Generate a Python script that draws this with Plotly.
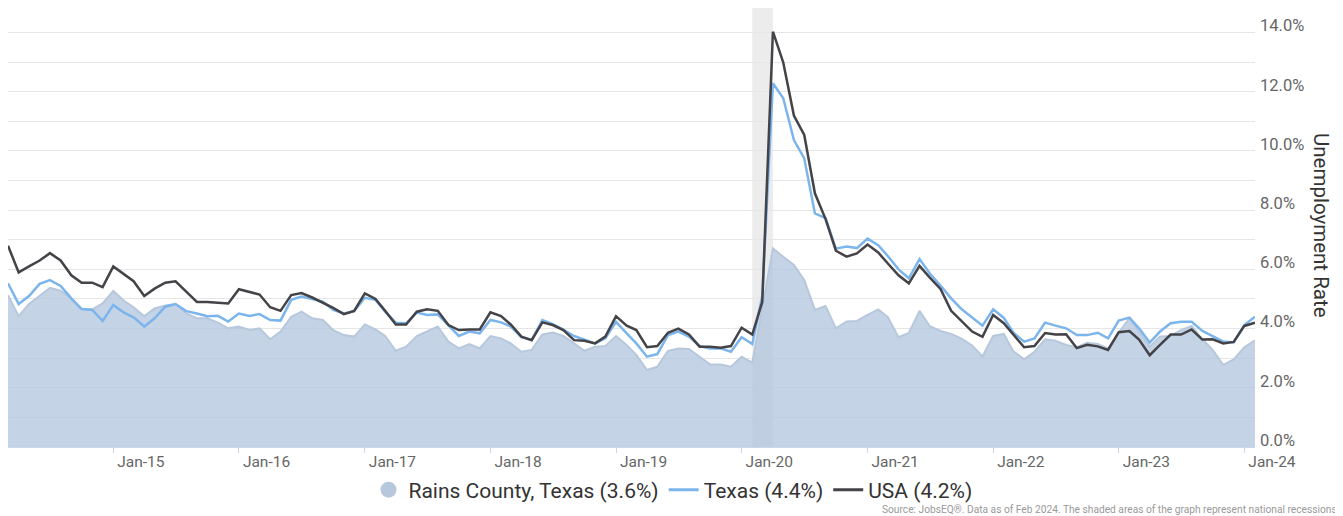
import pandas as pd
import plotly.graph_objects as go

# Monthly observations, Mar 2014 .. Feb 2024
months = pd.date_range("2014-03-01", periods=120, freq="MS")

usa = [6.8, 5.9, 6.1, 6.3, 6.55, 6.3, 5.8, 5.55, 5.55, 5.4,
       6.1, 5.85, 5.6, 5.1, 5.35, 5.55, 5.6, 5.25, 4.9, 4.9, 4.88, 4.85,
       5.33, 5.25, 5.15, 4.72, 4.6, 5.13, 5.2, 5.05, 4.88, 4.7, 4.49, 4.6,
       5.19, 5.0, 4.6, 4.14, 4.14, 4.57, 4.65, 4.6, 4.12, 3.95, 3.97, 3.97,
       4.55, 4.42, 4.14, 3.73, 3.61, 4.21, 4.12, 3.95, 3.61, 3.59, 3.5, 3.73,
       4.42, 4.1, 3.95, 3.37, 3.41, 3.86, 4.0, 3.8, 3.39, 3.39, 3.35, 3.41,
       4.03, 3.8, 4.9, 14.03, 12.99, 11.2, 10.54, 8.57, 7.7, 6.63, 6.43, 6.54,
       6.84, 6.57, 6.2, 5.8, 5.53, 6.12, 5.72, 5.34, 4.6, 4.26, 3.9, 3.72,
       4.46, 4.18, 3.8, 3.37, 3.41, 3.85, 3.8, 3.81, 3.34, 3.45, 3.4, 3.28,
       3.88, 3.92, 3.63, 3.1, 3.45, 3.8, 3.8, 3.97, 3.63, 3.64, 3.5, 3.55,
       4.09, 4.2]

texas = [5.53, 4.83, 5.1, 5.51, 5.64, 5.44, 5.02, 4.66, 4.63, 4.26,
         4.8, 4.54, 4.38, 4.07, 4.35, 4.74, 4.83, 4.59, 4.51, 4.42, 4.43, 4.24,
         4.51, 4.43, 4.49, 4.29, 4.27, 4.97, 5.08, 4.99, 4.91, 4.63, 4.51, 4.59,
         5.04, 4.97, 4.57, 4.2, 4.18, 4.54, 4.46, 4.48, 4.12, 3.75, 3.9, 3.84,
         4.29, 4.21, 4.07, 3.71, 3.62, 4.29, 4.15, 3.97, 3.75, 3.62, 3.5, 3.67,
         4.23, 3.84, 3.5, 3.05, 3.14, 3.78, 3.9, 3.73, 3.41, 3.33, 3.33, 3.22,
         3.71, 3.48, 5.1, 12.29, 11.78, 10.37, 9.75, 7.89, 7.73, 6.7, 6.77, 6.72,
         7.04, 6.82, 6.45, 6.0, 5.7, 6.35, 5.86, 5.45, 5.02, 4.66, 4.37, 4.1,
         4.65, 4.36, 3.86, 3.56, 3.67, 4.2, 4.1, 4.01, 3.78, 3.78, 3.86, 3.67,
         4.27, 4.37, 4.01, 3.53, 3.9, 4.18, 4.23, 4.23, 3.92, 3.73, 3.56, 3.53,
         4.12, 4.4]

rains = [5.13, 4.42, 4.83, 5.1, 5.38, 5.28, 5.02, 4.66, 4.65, 4.85,
         5.27, 4.94, 4.72, 4.42, 4.68, 4.78, 4.83, 4.51, 4.35, 4.35, 4.2, 4.01,
         4.07, 3.95, 4.01, 3.64, 3.9, 4.4, 4.57, 4.35, 4.29, 3.95, 3.78, 3.73,
         4.14, 3.97, 3.75, 3.25, 3.39, 3.75, 3.9, 4.07, 3.56, 3.33, 3.48, 3.33,
         3.75, 3.67, 3.5, 3.22, 3.28, 3.8, 3.87, 3.75, 3.5, 3.25, 3.39, 3.41,
         3.75, 3.45, 3.11, 2.6, 2.71, 3.25, 3.33, 3.31, 3.05, 2.79, 2.79, 2.71,
         3.05, 2.85, 4.7, 6.71, 6.43, 6.15, 5.64, 4.63, 4.76, 4.01, 4.24, 4.26,
         4.46, 4.65, 4.39, 3.71, 3.85, 4.6, 4.08, 3.92, 3.82, 3.66, 3.43, 3.06,
         3.75, 3.82, 3.23, 2.96, 3.22, 3.64, 3.59, 3.45, 3.37, 3.52, 3.48, 3.33,
         3.86, 4.35, 3.9, 3.39, 3.73, 3.75, 3.95, 4.09, 3.64, 3.28, 2.77, 2.96,
         3.37, 3.6]

series_names = ["Rains County, Texas (3.6%)", "Texas (4.4%)", "USA (4.2%)"]
recession = ["2020-02-01", "2020-04-01"]
x_ticks = pd.date_range("2015-01-01", "2024-01-01", freq="YS")
y_ticks = list(range(0, 15))
y_text = [f"{v:.1f}%" if v % 2 == 0 else "" for v in y_ticks]

FONT = "Roboto, 'Noto Sans', sans-serif"
RAINS_FILL = "rgba(176,196,222,0.75)"
RAINS_LINE = "rgb(184,200,220)"
TX = "#7cb5ec"
US = "#434348"

# the page body adds an 8px offset; figure is sized to fit the window
W, H = 1335, 508
PL, PR, PT, PB = 0, 88, 0, 69
PW, PH = W - PL - PR, H - PT - PB
Y_TOP = 14.83

fig = go.Figure()
fig.add_trace(go.Scatter(x=months, y=rains, mode="lines", fill="tozeroy",
                         fillcolor=RAINS_FILL, line=dict(color=RAINS_LINE, width=2),
                         showlegend=False, name=series_names[0]))
fig.add_trace(go.Scatter(x=months, y=texas, mode="lines",
                         line=dict(color=TX, width=2.5), showlegend=False,
                         name=series_names[1]))
fig.add_trace(go.Scatter(x=months, y=usa, mode="lines",
                         line=dict(color=US, width=2.5), showlegend=False,
                         name=series_names[2]))
# legend entries
fig.add_trace(go.Scatter(x=[None], y=[None], mode="markers", name=series_names[0],
                         marker=dict(color="rgb(184,200,220)", size=21, symbol="circle")))
fig.add_trace(go.Scatter(x=[None], y=[None], mode="lines", name=series_names[1],
                         line=dict(color=TX, width=3)))
fig.add_trace(go.Scatter(x=[None], y=[None], mode="lines", name=series_names[2],
                         line=dict(color=US, width=3)))

fig.add_shape(type="rect", xref="x", yref="paper", x0=recession[0], x1=recession[1],
              y0=0, y1=1, fillcolor="#ececec", line=dict(width=0), layer="below")

fig.update_layout(
    width=W, height=H,
    margin=dict(l=PL, r=PR, t=PT, b=PB, autoexpand=False),
    paper_bgcolor="white", plot_bgcolor="white",
    font=dict(family=FONT, color="#333333"),
    legend=dict(orientation="h", xref="container", yref="container",
                x=665 / W, xanchor="center", y=1 - 482 / H, yanchor="middle",
                font=dict(size=21, color="#333333"), itemwidth=30,
                tracegroupgap=0, bgcolor="rgba(0,0,0,0)"),
    xaxis=dict(type="date", range=[months[0], months[-1]],
               tickvals=x_ticks, tickformat="%b-%y",
               ticks="outside", ticklen=5, tickcolor="#ccd6eb",
               ticklabelposition="outside right", ticklabelshift=3,
               showline=True, linecolor="#ccd6eb", linewidth=1,
               showgrid=False, zeroline=False, automargin=False,
               tickfont=dict(size=15.5, color="#666666")),
    yaxis=dict(side="right", range=[0, Y_TOP], tickvals=y_ticks, ticktext=y_text,
               showgrid=True, gridcolor="#e6e6e6", gridwidth=1, zeroline=False,
               ticks="", ticklabelshift=-7, ticklabelstandoff=4, automargin=False,
               tickfont=dict(size=16.5, color="#666666")),
    annotations=[
        dict(text="Unemployment Rate", xref="paper", yref="paper",
             x=1313 / PW, y=(PH - 217) / PH, textangle=90, showarrow=False,
             font=dict(size=20.5, color="#333333"), xanchor="center", yanchor="middle"),
        dict(text="Source: JobsEQ®. Data as of Feb 2024. The shaded areas of the graph represent national recessions",
             xref="paper", yref="paper", x=1331 / PW, y=(PH - 501) / PH,
             xanchor="right", yanchor="middle", showarrow=False,
             font=dict(size=10.2, color="#999999")),
    ],
)

fig.write_html("out.html")
